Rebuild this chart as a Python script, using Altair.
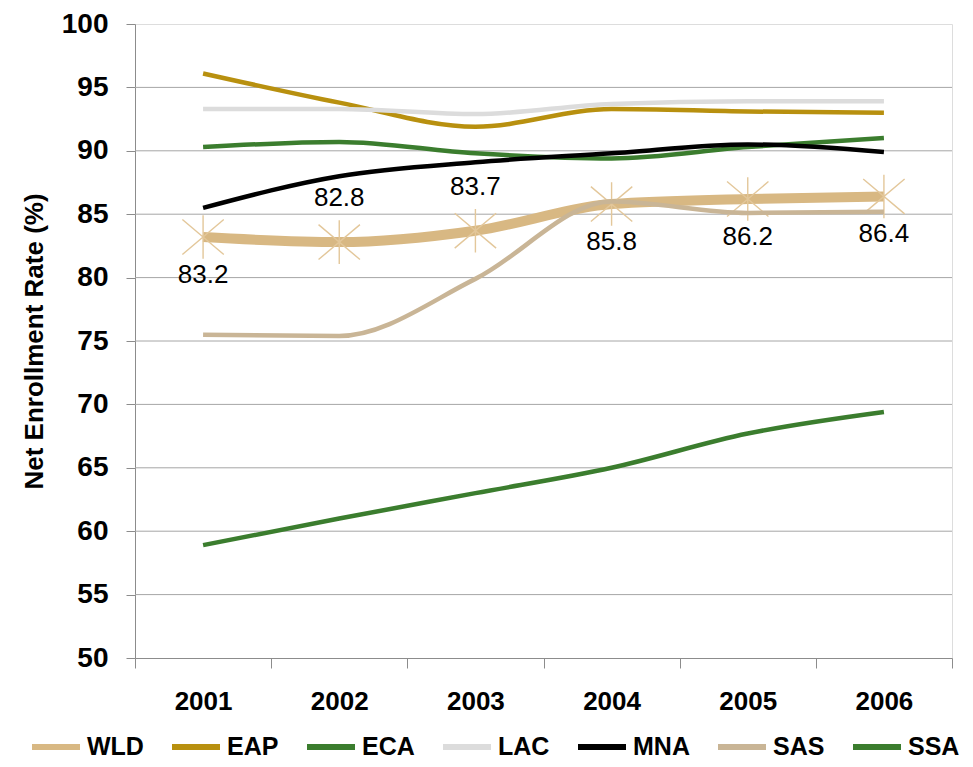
import altair as alt
import pandas as pd

years = ["2001", "2002", "2003", "2004", "2005", "2006"]
series = ["WLD", "EAP", "ECA", "LAC", "MNA", "SAS", "SSA"]
wld = [83.2, 82.8, 83.7, 85.8, 86.2, 86.4]
eap = [96.1, 93.8, 91.9, 93.3, 93.1, 93.0]
eca = [90.3, 90.7, 89.8, 89.4, 90.3, 91.0]
lac = [93.3, 93.3, 92.9, 93.7, 93.9, 93.9]
mna = [85.5, 88.0, 89.1, 89.8, 90.5, 89.9]
sas = [75.5, 75.4, 79.9, 86.0, 85.1, 85.2]
ssa = [58.9, 61.0, 63.0, 65.0, 67.7, 69.4]
colors = ["#D8B883", "#B8900F", "#3B7D2E", "#DCDCDC", "#000000", "#C9B596", "#3B7D2E"]
labels_above = ["2002", "2003"]
y_ticks = [50, 55, 60, 65, 70, 75, 80, 85, 90, 95, 100]
grid_values = [55, 60, 65, 70, 75, 80, 85, 90, 95]

values = {"WLD": wld, "EAP": eap, "ECA": eca, "LAC": lac, "MNA": mna, "SAS": sas, "SSA": ssa}
rows = []
for s in series:
    for i, y in enumerate(years):
        rows.append({"year": y, "series": s, "value": values[s][i], "order": series.index(s)})
df = pd.DataFrame(rows)
wld_df = df[df.series == "WLD"].copy()
wld_df["label"] = wld_df["value"].map(lambda v: f"{v:.1f}")
wld_df["above"] = wld_df["year"].isin(labels_above)
others = df[df.series != "WLD"]
grid_df = pd.DataFrame({"value": grid_values})

FONT = "Liberation Sans"
xscale = alt.Scale(type="band", paddingInner=0, paddingOuter=0, domain=years)
yscale = alt.Scale(domain=[50, 100], nice=False, zero=False)
cscale = alt.Scale(domain=series, range=colors)

x_enc = alt.X(
    "year:O", scale=xscale, bandPosition=0.5, title=None,
    axis=alt.Axis(tickBand="extent", labelAngle=0, labelFont=FONT, labelFontSize=26,
                  labelFontWeight="bold", labelColor="#000000", labelPadding=20,
                  domainColor="#8C8C8C", tickColor="#8C8C8C", tickSize=10, grid=False),
)
y_axis = alt.Axis(values=y_ticks, labelFont=FONT, labelFontSize=28, labelFontWeight="bold",
                  labelColor="#000000", labelPadding=18, tickSize=9, tickColor="#8C8C8C",
                  domainColor="#8C8C8C", grid=False, title="Net Enrollment Rate (%)",
                  titleFont=FONT, titleFontSize=26, titleFontWeight="bold", titleColor="#000000",
                  titlePadding=14)
y_enc = alt.Y("value:Q", scale=yscale, axis=y_axis)
color_enc = alt.Color(
    "series:N", scale=cscale, sort=series,
    legend=alt.Legend(orient="none", legendX=-106, legendY=696, direction="horizontal",
                      title=None, symbolType="stroke", symbolSize=2304, symbolStrokeWidth=6,
                      labelFont=FONT, labelFontSize=25, labelFontWeight="bold",
                      labelColor="#000000", labelOffset=4, columnPadding=16, columns=7,
                      gridAlign="none", labelLimit=200),
)

grid = alt.Chart(grid_df).mark_rule(color="#A6A6A6", strokeWidth=1).encode(
    y=y_enc
)

wld_line = alt.Chart(wld_df).mark_line(interpolate="monotone", strokeWidth=10).encode(
    x=x_enc, y=y_enc, color=color_enc
)

star_path = "M0,-1L0,1M-0.95,-0.8L0.95,0.8M-0.95,0.8L0.95,-0.8"
stars = alt.Chart(wld_df).mark_point(
    shape=star_path, filled=False, size=1900, color="#E3C79A", strokeWidth=1.4, opacity=1
).encode(x=x_enc, y=y_enc)

other_lines = alt.Chart(others).mark_line(interpolate="monotone", strokeWidth=4.5).encode(
    x=x_enc, y=y_enc, color=color_enc, order="order:Q"
)

labels_up = alt.Chart(wld_df[wld_df.above]).mark_text(
    font=FONT, fontSize=26, color="#000000", dy=-44
).encode(x=x_enc, y=y_enc, text="label:N")
labels_down = alt.Chart(wld_df[~wld_df.above]).mark_text(
    font=FONT, fontSize=26, color="#000000", dy=38
).encode(x=x_enc, y=y_enc, text="label:N")

chart = alt.layer(grid, wld_line, stars, other_lines, labels_up, labels_down).properties(
    width=817, height=634,
    autosize=alt.AutoSizeParams(type="none"),
    padding={"left": 127, "top": 16, "right": 10, "bottom": 108},
).configure_view(stroke=None).configure(background="#FFFFFF")

chart.save("out.html", embed_options={"renderer": "svg", "actions": False})
